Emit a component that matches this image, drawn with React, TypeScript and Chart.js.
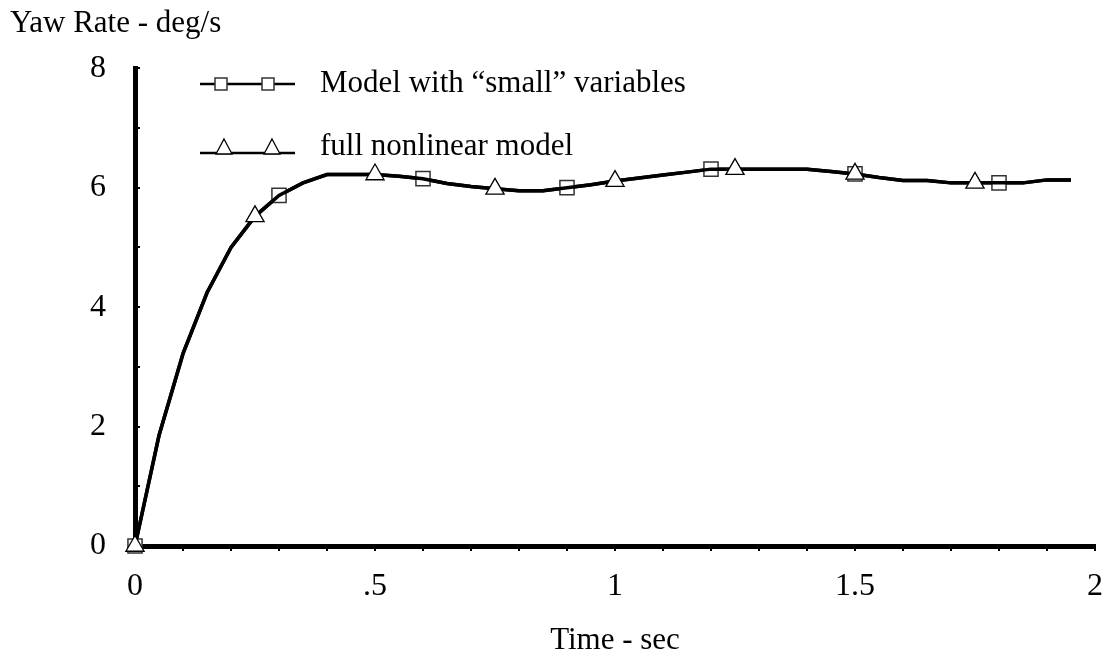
import React, { useEffect, useRef } from 'react';
import { Chart, registerables } from 'chart.js';

Chart.register(...registerables);

const FONT = "'Liberation Serif', 'Times New Roman', serif";

// Time axis samples (sec)
const timeSec = [
  0, 0.05, 0.1, 0.15, 0.2, 0.25, 0.3, 0.35, 0.4, 0.45,
  0.5, 0.55, 0.6, 0.65, 0.7, 0.75, 0.8, 0.85, 0.9, 0.95,
  1.0, 1.05, 1.1, 1.15, 1.2, 1.25, 1.3, 1.35, 1.4, 1.45,
  1.5, 1.55, 1.6, 1.65, 1.7, 1.75, 1.8, 1.85, 1.9, 1.95,
];

// Yaw rate (deg/s) – model with "small" variables
const smallModelYawRate = [
  0, 1.85, 3.22, 4.24, 5.0, 5.52, 5.87, 6.08, 6.22, 6.22,
  6.22, 6.19, 6.15, 6.07, 6.02, 5.98, 5.95, 5.95, 6.0, 6.05,
  6.11, 6.16, 6.21, 6.26, 6.31, 6.31, 6.31, 6.31, 6.31, 6.27,
  6.23, 6.17, 6.12, 6.12, 6.08, 6.08, 6.08, 6.08, 6.13, 6.13,
];

// Yaw rate (deg/s) – full nonlinear model
const fullModelYawRate = [
  0, 1.85, 3.22, 4.24, 5.0, 5.52, 5.87, 6.08, 6.22, 6.22,
  6.22, 6.19, 6.15, 6.07, 6.02, 5.98, 5.95, 5.95, 6.0, 6.05,
  6.11, 6.16, 6.21, 6.26, 6.31, 6.31, 6.31, 6.31, 6.31, 6.27,
  6.23, 6.17, 6.12, 6.12, 6.08, 6.08, 6.08, 6.08, 6.13, 6.13,
];

const seriesLabels = ['Model with \u201csmall\u201d variables', 'full nonlinear model'];
const xTickValues = [0, 0.5, 1, 1.5, 2];
const xTickLabels = ['0', '.5', '1', '1.5', '2'];
const yTickValues = [0, 2, 4, 6, 8];
const yTickLabels = ['0', '2', '4', '6', '8'];
const xAxisTitle = 'Time - sec';
const yAxisTitle = 'Yaw Rate - deg/s';

function drawSquare(ctx: CanvasRenderingContext2D, cx: number, cy: number, side: number) {
  ctx.beginPath();
  ctx.rect(cx - side / 2, cy - side / 2, side, side);
  ctx.fillStyle = '#fff';
  ctx.fill();
  ctx.lineWidth = 1.5;
  ctx.strokeStyle = '#333';
  ctx.stroke();
}

function drawTriangle(ctx: CanvasRenderingContext2D, cx: number, baseY: number, w: number, h: number) {
  ctx.beginPath();
  ctx.moveTo(cx, baseY - h);
  ctx.lineTo(cx + w / 2, baseY);
  ctx.lineTo(cx - w / 2, baseY);
  ctx.closePath();
  ctx.fillStyle = '#fff';
  ctx.fill();
  ctx.lineWidth = 1.3;
  ctx.strokeStyle = '#000';
  ctx.stroke();
}

const pairLegend = {
  id: 'pairLegend',
  afterDraw(chart: any) {
    const ctx: CanvasRenderingContext2D = chart.ctx;
    ctx.save();
    const lineStart = 200;
    const lineEnd = 295;
    const textX = 320;
    // Row 1: squares
    const y1 = 84;
    ctx.beginPath();
    ctx.moveTo(lineStart, y1);
    ctx.lineTo(lineEnd, y1);
    ctx.lineWidth = 2.5;
    ctx.strokeStyle = '#000';
    ctx.stroke();
    drawSquare(ctx, 221, y1, 12);
    drawSquare(ctx, 268, y1, 12);
    // Row 2: triangles
    const y2 = 153;
    ctx.beginPath();
    ctx.moveTo(lineStart, y2);
    ctx.lineTo(lineEnd, y2);
    ctx.lineWidth = 2.5;
    ctx.strokeStyle = '#000';
    ctx.stroke();
    drawTriangle(ctx, 224, y2 + 1, 16, 15);
    drawTriangle(ctx, 272, y2 + 1, 16, 15);

    ctx.fillStyle = '#000';
    ctx.font = `31px ${FONT}`;
    ctx.textAlign = 'left';
    ctx.textBaseline = 'middle';
    const labels = chart.data.datasets.map((d: any) => d.label);
    ctx.fillText(labels[0], textX, y1);
    ctx.fillText(labels[1], textX, 147);
    ctx.restore();
  },
};

export default function App() {
  const canvasRef = useRef<HTMLCanvasElement>(null);

  useEffect(() => {
    const canvas = canvasRef.current;
    if (!canvas) return;
    const chart = new Chart(canvas, {
      type: 'line',
      data: {
        datasets: [
          {
            label: seriesLabels[0],
            data: timeSec.map((x, i) => ({ x, y: smallModelYawRate[i] })),
            borderColor: '#000',
            borderWidth: 3.5,
            tension: 0,
            fill: false,
            pointStyle: 'rect',
            pointRadius: (c: any) => (c.dataIndex % 6 === 0 ? 10 : 0),
            pointHoverRadius: (c: any) => (c.dataIndex % 6 === 0 ? 10 : 0),
            pointBackgroundColor: '#fff',
            pointBorderColor: '#333',
            pointBorderWidth: 1.5,
            clip: false as any,
            order: 1,
          },
          {
            label: seriesLabels[1],
            data: timeSec.map((x, i) => ({ x, y: fullModelYawRate[i] })),
            borderColor: '#000',
            borderWidth: 3.5,
            tension: 0,
            fill: false,
            pointStyle: 'triangle',
            pointRadius: (c: any) => (c.dataIndex % 5 === 0 ? 10.5 : 0),
            pointHoverRadius: (c: any) => (c.dataIndex % 5 === 0 ? 10.5 : 0),
            pointBackgroundColor: '#fff',
            pointBorderColor: '#000',
            pointBorderWidth: 1.3,
            clip: false as any,
            order: 0,
          },
        ],
      },
      options: {
        animation: false,
        responsive: false,
        devicePixelRatio: 1,
        events: [],
        layout: { padding: { left: 10, top: 0, right: 17, bottom: 0 } },
        plugins: {
          legend: { display: false },
          tooltip: { enabled: false },
          title: {
            display: true,
            text: yAxisTitle,
            align: 'start',
            color: '#000',
            font: { family: FONT, size: 31, weight: 'normal' },
            padding: { top: 5, bottom: 26 },
          },
        },
        scales: {
          x: {
            type: 'linear',
            min: 0,
            max: 2,
            afterFit: (scale: any) => {
              scale.height = 114;
              scale.paddingLeft = 0;
              scale.paddingRight = 0;
            },
            border: { display: true, color: '#000', width: 5 },
            grid: {
              display: true,
              drawOnChartArea: false,
              drawTicks: true,
              tickLength: 5,
              color: '#000',
              lineWidth: 2,
            },
            ticks: {
              stepSize: 0.1,
              autoSkip: false,
              maxRotation: 0,
              padding: 16,
              color: '#000',
              font: { family: FONT, size: 32 },
              callback: (value: any) => {
                const i = xTickValues.findIndex((v) => Math.abs(v - Number(value)) < 1e-6);
                return i >= 0 ? xTickLabels[i] : '';
              },
            },
            title: {
              display: true,
              text: xAxisTitle,
              color: '#000',
              font: { family: FONT, size: 31 },
              padding: { top: 0, bottom: 1 },
            },
          },
          y: {
            type: 'linear',
            min: 0,
            max: 8,
            afterFit: (scale: any) => {
              scale.width = 125;
            },
            border: { display: true, color: '#000', width: 5 },
            grid: {
              display: true,
              drawOnChartArea: false,
              drawTicks: true,
              tickLength: -5,
              color: '#000',
              lineWidth: 2,
            },
            ticks: {
              stepSize: 1,
              autoSkip: false,
              padding: 34,
              color: '#000',
              font: { family: FONT, size: 32 },
              callback: (value: any) => {
                const i = yTickValues.findIndex((v) => Math.abs(v - Number(value)) < 1e-6);
                return i >= 0 ? yTickLabels[i] : '';
              },
            },
          },
        },
      },
      plugins: [pairLegend],
    } as any);
    return () => chart.destroy();
  }, []);

  return (
    <div style={{ position: 'fixed', left: 0, top: 0, width: 1112, height: 660, background: '#fff' }}>
      <canvas ref={canvasRef} width={1112} height={660} style={{ display: 'block', width: 1112, height: 660 }} />
    </div>
  );
}
